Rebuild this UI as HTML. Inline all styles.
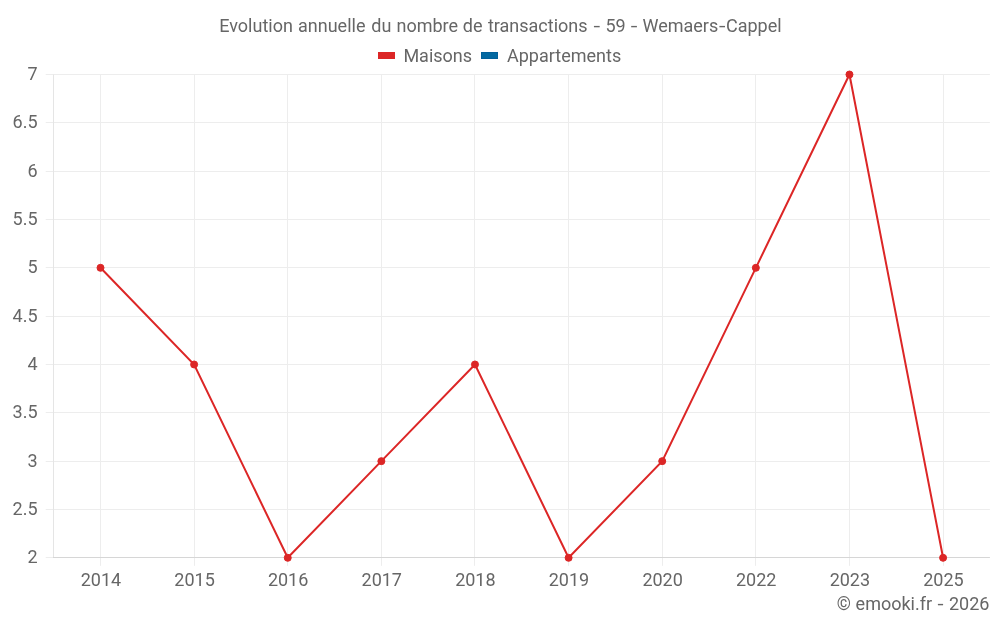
<!DOCTYPE html><html lang="fr"><head><meta charset="utf-8"><title>Evolution annuelle du nombre de transactions - 59 - Wemaers-Cappel</title><style>html,body{margin:0;padding:0;background:#fff;width:1000px;height:625px;overflow:hidden}svg{display:block}</style></head><body>
<svg width="1000" height="625" viewBox="0 0 1000 625">
<rect width="1000" height="625" fill="#fff"/>
<path d="M45.69 74.5H989.89M45.69 122.5H989.89M45.69 171.5H989.89M45.69 219.5H989.89M45.69 267.5H989.89M45.69 316.5H989.89M45.69 364.5H989.89M45.69 412.5H989.89M45.69 461.5H989.89M45.69 509.5H989.89M45.69 557.5H989.89M100.5 74.5V565.80M194.5 74.5V565.80M287.5 74.5V565.80M381.5 74.5V565.80M474.5 74.5V565.80M568.5 74.5V565.80M662.5 74.5V565.80M755.5 74.5V565.80M849.5 74.5V565.80M943.5 74.5V565.80" fill="none" stroke="#ededed" stroke-width="1"/>
<path d="M53.5 74.5V557.80" fill="none" stroke="#e5e5e5" stroke-width="1"/>
<path d="M53 557.5H989.89" fill="none" stroke="#d6d6d6" stroke-width="1"/>
<g font-family="Roboto, 'Liberation Sans', Arial, Helvetica, sans-serif" font-size="18" fill="#666">
<text x="219.25" y="31.6" textLength="73.641" lengthAdjust="spacingAndGlyphs">Evolution</text>
<text x="298" y="31.6" textLength="67.453" lengthAdjust="spacingAndGlyphs">annuelle</text>
<text x="371.25" y="31.6" textLength="20.078" lengthAdjust="spacingAndGlyphs">du</text>
<text x="396.5" y="31.6" textLength="61.578" lengthAdjust="spacingAndGlyphs">nombre</text>
<text x="462.75" y="31.6" textLength="19.703" lengthAdjust="spacingAndGlyphs">de</text>
<text x="487.9" y="31.6" textLength="99.641" lengthAdjust="spacingAndGlyphs">transactions</text>
<text transform="matrix(1.33 0 0 1 593.46 31.6)" textLength="4.980" lengthAdjust="spacingAndGlyphs">-</text>
<text x="605.5" y="31.6" textLength="20.234" lengthAdjust="spacingAndGlyphs">59</text>
<text transform="matrix(1.33 0 0 1 630.66 31.6)" textLength="4.980" lengthAdjust="spacingAndGlyphs">-</text>
<text x="642.5" y="31.6" textLength="75.766" lengthAdjust="spacingAndGlyphs">Wemaers</text>
<text transform="matrix(1.3 0 0 1 719.0 31.6)" textLength="4.971" lengthAdjust="spacingAndGlyphs">-</text>
<text x="726.0" y="31.6" textLength="55.656" lengthAdjust="spacingAndGlyphs">Cappel</text>
<text x="37.6" y="79.9" text-anchor="end" textLength="10.125" lengthAdjust="spacingAndGlyphs">7</text>
<text x="37.6" y="127.9" text-anchor="end" textLength="24.984" lengthAdjust="spacingAndGlyphs">6.5</text>
<text x="37.6" y="176.9" text-anchor="end" textLength="10.125" lengthAdjust="spacingAndGlyphs">6</text>
<text x="37.6" y="224.9" text-anchor="end" textLength="24.984" lengthAdjust="spacingAndGlyphs">5.5</text>
<text x="37.6" y="272.9" text-anchor="end" textLength="10.125" lengthAdjust="spacingAndGlyphs">5</text>
<text x="37.6" y="321.9" text-anchor="end" textLength="24.984" lengthAdjust="spacingAndGlyphs">4.5</text>
<text x="37.6" y="369.9" text-anchor="end" textLength="10.125" lengthAdjust="spacingAndGlyphs">4</text>
<text x="37.6" y="417.9" text-anchor="end" textLength="24.984" lengthAdjust="spacingAndGlyphs">3.5</text>
<text x="37.6" y="466.9" text-anchor="end" textLength="10.125" lengthAdjust="spacingAndGlyphs">3</text>
<text x="37.6" y="514.9" text-anchor="end" textLength="24.984" lengthAdjust="spacingAndGlyphs">2.5</text>
<text x="37.6" y="562.9" text-anchor="end" textLength="10.125" lengthAdjust="spacingAndGlyphs">2</text>
<text x="100.90" y="585.6" text-anchor="middle" textLength="40.469" lengthAdjust="spacingAndGlyphs">2014</text>
<text x="194.52" y="585.6" text-anchor="middle" textLength="40.469" lengthAdjust="spacingAndGlyphs">2015</text>
<text x="288.14" y="585.6" text-anchor="middle" textLength="40.469" lengthAdjust="spacingAndGlyphs">2016</text>
<text x="381.76" y="585.6" text-anchor="middle" textLength="40.469" lengthAdjust="spacingAndGlyphs">2017</text>
<text x="475.38" y="585.6" text-anchor="middle" textLength="40.469" lengthAdjust="spacingAndGlyphs">2018</text>
<text x="569.00" y="585.6" text-anchor="middle" textLength="40.469" lengthAdjust="spacingAndGlyphs">2019</text>
<text x="662.62" y="585.6" text-anchor="middle" textLength="40.469" lengthAdjust="spacingAndGlyphs">2020</text>
<text x="756.24" y="585.6" text-anchor="middle" textLength="40.469" lengthAdjust="spacingAndGlyphs">2022</text>
<text x="849.86" y="585.6" text-anchor="middle" textLength="40.469" lengthAdjust="spacingAndGlyphs">2023</text>
<text x="943.48" y="585.6" text-anchor="middle" textLength="40.469" lengthAdjust="spacingAndGlyphs">2025</text>
<text x="403.4" y="62.0" textLength="68.672" lengthAdjust="spacingAndGlyphs">Maisons</text>
<text x="507" y="62.0" textLength="114.172" lengthAdjust="spacingAndGlyphs">Appartements</text>
<text x="836.8" y="610.3" textLength="14.156" lengthAdjust="spacingAndGlyphs">©</text>
<text x="855.6" y="610.3" textLength="76.469" lengthAdjust="spacingAndGlyphs">emooki.fr</text>
<text transform="matrix(1.21 0 0 1 937.4 610.3)" textLength="4.983" lengthAdjust="spacingAndGlyphs">-</text>
<text x="949" y="610.3" textLength="40.469" lengthAdjust="spacingAndGlyphs">2026</text>
</g>
<rect x="378.5" y="52.5" width="16" height="6" fill="#dc2626" stroke="#dc2626" stroke-width="1"/>
<rect x="481.5" y="52.5" width="16" height="6" fill="#0369a1" stroke="#02609a" stroke-width="1"/>
<path d="M100.50,267.82 L194.12,364.48 L287.74,557.80 L381.36,461.14 L474.98,364.48 L568.60,557.80 L662.22,461.14 L755.84,267.82 L849.46,74.50 L943.08,557.80" fill="none" stroke="#dc2626" stroke-width="2" stroke-linejoin="miter"/>
<circle cx="100.50" cy="267.82" r="3.5" fill="#dc2626" stroke="#dc2626" stroke-width="1"/>
<circle cx="194.12" cy="364.48" r="3.5" fill="#dc2626" stroke="#dc2626" stroke-width="1"/>
<circle cx="287.74" cy="557.80" r="3.5" fill="#dc2626" stroke="#dc2626" stroke-width="1"/>
<circle cx="381.36" cy="461.14" r="3.5" fill="#dc2626" stroke="#dc2626" stroke-width="1"/>
<circle cx="474.98" cy="364.48" r="3.5" fill="#dc2626" stroke="#dc2626" stroke-width="1"/>
<circle cx="568.60" cy="557.80" r="3.5" fill="#dc2626" stroke="#dc2626" stroke-width="1"/>
<circle cx="662.22" cy="461.14" r="3.5" fill="#dc2626" stroke="#dc2626" stroke-width="1"/>
<circle cx="755.84" cy="267.82" r="3.5" fill="#dc2626" stroke="#dc2626" stroke-width="1"/>
<circle cx="849.46" cy="74.50" r="3.5" fill="#dc2626" stroke="#dc2626" stroke-width="1"/>
<circle cx="943.08" cy="557.80" r="3.5" fill="#dc2626" stroke="#dc2626" stroke-width="1"/>
</svg></body></html>
